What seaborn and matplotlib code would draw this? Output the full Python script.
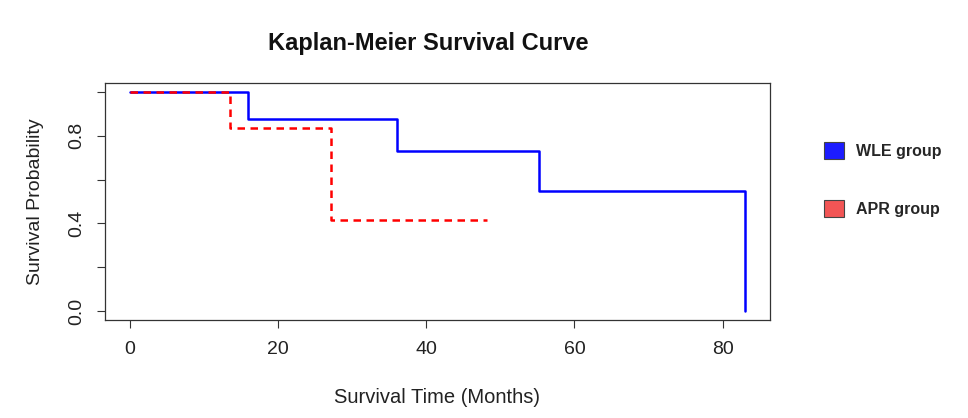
import seaborn as sns
import matplotlib.pyplot as plt
from matplotlib.patches import Patch

# Kaplan-Meier step data
WLE_TIME = [0, 16, 36, 55.2, 83]
WLE_SURV = [1.0, 0.875, 0.729, 0.547, 0.0]
APR_TIME = [0, 13.5, 27.2, 48.2]
APR_SURV = [1.0, 0.833, 0.417, 0.417]

GROUPS = ["WLE group", "APR group"]
LINE_COLORS = ["#0000ff", "#ff0000"]
PATCH_COLORS = ["#1c1cff", "#f25555"]

X_TICKS = [0, 20, 40, 60, 80]
Y_TICKS = [0.0, 0.2, 0.4, 0.6, 0.8, 1.0]
Y_TICK_LABELS = ["0.0", "", "0.4", "", "0.8", ""]

sns.set_theme(style="ticks")
plt.rcParams["font.family"] = ["Liberation Sans", "DejaVu Sans"]
plt.rcParams["axes.edgecolor"] = "black"
plt.rcParams["xtick.color"] = "#333333"
plt.rcParams["ytick.color"] = "#333333"

fig = plt.figure(figsize=(9.68, 4.18), dpi=100)
ax = fig.add_axes([0.1085, 0.2344, 0.6865, 0.567])

sns.lineplot(x=WLE_TIME, y=WLE_SURV, ax=ax, color=LINE_COLORS[0],
             drawstyle="steps-post", linewidth=1.8, errorbar=None, sort=False)
sns.lineplot(x=APR_TIME, y=APR_SURV, ax=ax, color=LINE_COLORS[1],
             drawstyle="steps-post", linewidth=1.8, errorbar=None, sort=False,
             dashes=False, linestyle=(0, (3, 2.2)))

ax.set_xlim(-3.32, 86.32)
ax.set_ylim(-0.04, 1.04)
ax.set_xticks(X_TICKS)
ax.set_yticks(Y_TICKS)
ax.set_yticklabels(Y_TICK_LABELS, rotation=90, va="center")
ax.tick_params(axis="both", direction="out", length=6, width=0.8,
               labelsize=14, labelcolor="#222222")
ax.tick_params(axis="x", pad=9)
ax.tick_params(axis="y", pad=8)
for s in ax.spines.values():
    s.set_visible(True)
    s.set_linewidth(0.9)
    s.set_color("#333333")

ax.set_xlabel("Survival Time (Months)", fontsize=14.5, labelpad=22, color="#222222")
ax.set_ylabel("Survival Probability", fontsize=14, labelpad=18, color="#222222")
ax.set_title("Kaplan-Meier Survival Curve", fontsize=17, fontweight="bold",
             pad=24, color="#111111", x=0.486)

handles = [Patch(facecolor=c, edgecolor="#444444", linewidth=0.8)
           for c in PATCH_COLORS]
leg = fig.legend(handles, GROUPS, loc="center left",
                 bbox_to_anchor=(0.836, 0.57), frameon=False,
                 handlelength=1.25, handleheight=1.25, handletextpad=0.8,
                 labelspacing=2.55, prop={"size": 11.5, "weight": "bold"})

fig.savefig("out.png", dpi=100)
